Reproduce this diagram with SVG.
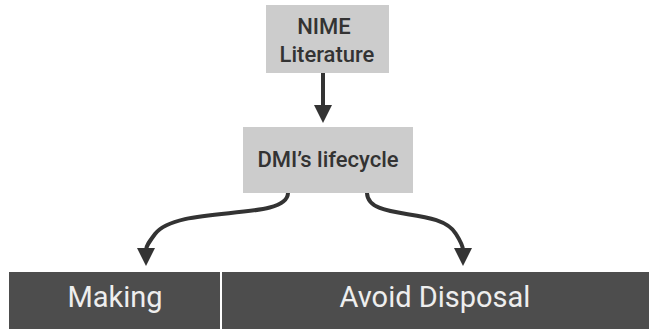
<svg xmlns="http://www.w3.org/2000/svg" width="649" height="329" viewBox="0 0 649 329">
<style>
.box{fill:#cccccc}
.bar{fill:#4d4d4d}
.lbl{font-family:Roboto,"Liberation Sans",sans-serif;font-size:22px;font-weight:500;fill:#333333;text-anchor:middle}
.blbl{font-family:Roboto,"Liberation Sans",sans-serif;font-size:29px;fill:#eeeeee;text-anchor:middle}
.conn{fill:none;stroke:#333333;stroke-width:4}
</style>
<defs>
<marker id="ah" markerUnits="userSpaceOnUse" markerWidth="20" markerHeight="20" viewBox="0 0 20 20" refX="2" refY="10" orient="auto">
<path d="M0,1 L18,10 L0,19 Z" fill="#333333"/>
</marker>
</defs>
<rect width="649" height="329" fill="#ffffff"/>
<g id="nime">
<rect class="box" x="266" y="5" width="123" height="68"/>
<text class="lbl" x="324" y="34">NIME</text>
<text class="lbl" x="327" y="62">Literature</text>
</g>
<g id="dmi">
<rect class="box" x="243" y="127" width="170" height="66"/>
<text class="lbl" x="328" y="167">DMI’s lifecycle</text>
</g>
<g id="making">
<rect class="bar" x="9" y="272" width="211" height="57"/>
<text class="blbl" x="115" y="307">Making</text>
</g>
<g id="avoid">
<rect class="bar" x="222" y="272" width="427" height="57"/>
<text class="blbl" x="435" y="307">Avoid Disposal</text>
</g>
<g id="connectors">
<path class="conn" d="M323,73 L323,107" marker-end="url(#ah)"/>
<path class="conn" d="M288,193 C287,222 178,204 155,234 C149,242 146,246 146,250" marker-end="url(#ah)"/>
<path class="conn" d="M367,193 C368,222 440,206 456,234 C461,242 463,246 463,250" marker-end="url(#ah)"/>
</g>
</svg>
